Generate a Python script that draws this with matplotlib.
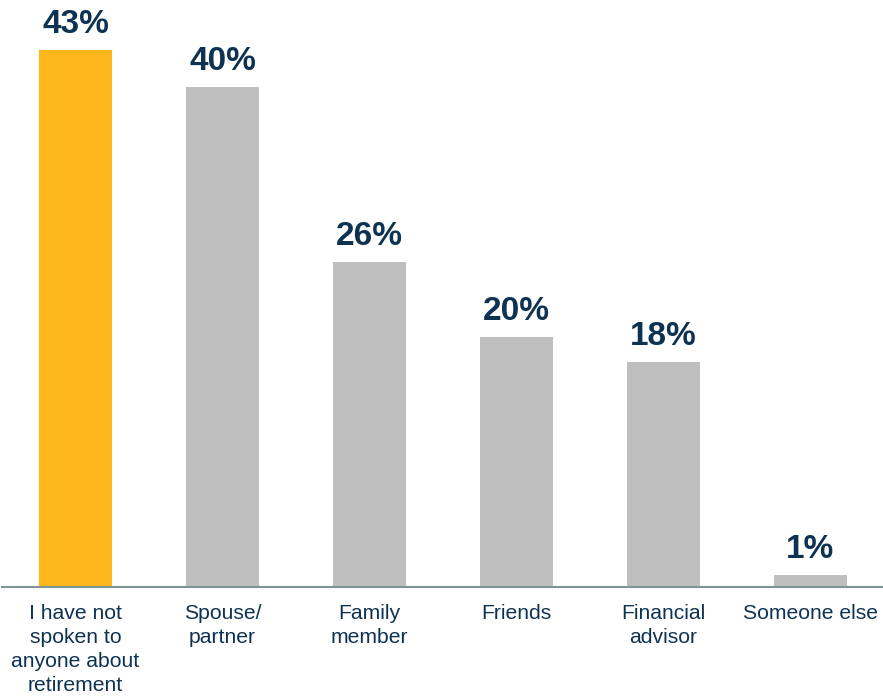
import matplotlib
matplotlib.use("Agg")
import matplotlib.pyplot as plt

categories = [
    "I have not\nspoken to\nanyone about\nretirement",
    "Spouse/\npartner",
    "Family\nmember",
    "Friends",
    "Financial\nadvisor",
    "Someone else",
]
values = [43, 40, 26, 20, 18, 1]
bar_colors = ["#FDB71A", "#BFBFBF", "#BFBFBF", "#BFBFBF", "#BFBFBF", "#BFBFBF"]

text_color = "#0E3352"
plt.rcParams["font.family"] = ["Liberation Sans", "DejaVu Sans"]

W, H = 883, 697
fig = plt.figure(figsize=(W / 100, H / 100), dpi=100)
ax = fig.add_axes([2 / W, (H - 587) / H, 882 / W, 587 / H])

x = list(range(len(categories)))
ax.bar(x, values, width=0.5, color=bar_colors, zorder=2)

for xi, v in zip(x, values):
    ax.annotate(f"{v}%", (xi, v), xytext=(0, 12), textcoords="offset points",
                ha="center", va="baseline", fontsize=24, fontweight="bold",
                color=text_color)

ax.set_xlim(-0.5, len(categories) - 0.5)
ax.set_ylim(0, 587 / 12.5)
ax.set_xticks(x)
ax.set_xticklabels(categories, fontsize=15.2, color=text_color, linespacing=1.33)
ax.tick_params(axis="x", length=0, pad=12)
ax.set_yticks([])
for side in ("top", "right", "left"):
    ax.spines[side].set_visible(False)
ax.spines["bottom"].set_color("#7F9494")
ax.spines["bottom"].set_linewidth(1.5)
ax.patch.set_alpha(0)

fig.savefig("out.png", dpi=100)
